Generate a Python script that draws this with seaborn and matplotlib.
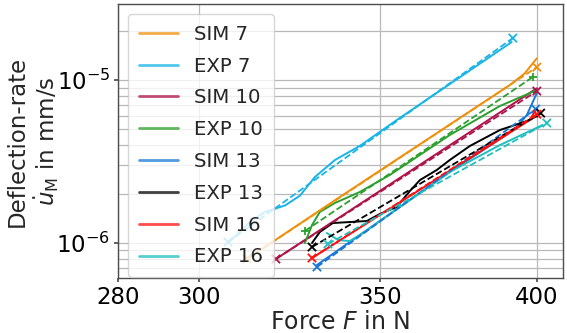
import matplotlib
matplotlib.use("Agg")
import matplotlib.pyplot as plt
from matplotlib.lines import Line2D
from matplotlib.ticker import FixedLocator, FixedFormatter, NullLocator, NullFormatter
import pandas as pd
import seaborn as sns

# Series names and colours
labels = ["SIM 7", "EXP 7", "SIM 10", "EXP 10", "SIM 13", "EXP 13", "SIM 16", "EXP 16"]
colors = ["#f0900a", "#18b4e8", "#b0124a", "#2ca02c", "#1a78d8", "#000000", "#ff1010", "#1fbfbf"]
start_markers = ["x", "x", "x", "+", "x", "x", "x", "x"]

# Measured / simulated deflection-rate curves (force in N, rate in mm/s)
sim7_F = [312.5, 338.2, 390.9, 395.9, 400.0]
sim7_u = [0.798e-6, 1.915e-6, 9.32e-6, 11.0e-6, 13.6e-6]
exp7_F = [307.5, 313.3, 317.3, 322.8, 326.9, 331.1, 336.8, 344.0, 355.0, 391.5]
exp7_u = [1.0e-6, 1.345e-6, 1.55e-6, 1.70e-6, 1.95e-6, 2.54e-6, 3.23e-6, 3.94e-6, 5.68e-6, 17.1e-6]
sim10_F = [320.3, 400.0]
sim10_u = [0.798e-6, 8.9e-6]
exp10_F = [328.3, 330.3, 332.5, 336.8, 344.0, 352.9, 371.4, 387.6, 400.0]
exp10_u = [1.0e-6, 1.289e-6, 1.55e-6, 1.76e-6, 2.056e-6, 2.614e-6, 4.598e-6, 6.93e-6, 8.68e-6]
sim13_F = [331.7, 371.4, 389.2, 393.2, 396.6, 398.6, 400.0]
sim13_u = [0.733e-6, 2.727e-6, 4.533e-6, 5.148e-6, 6.099e-6, 7.328e-6, 8.321e-6]
exp13_F = [330.3, 332.5, 336.2, 341.1, 346.1, 349.9, 355.0, 359.0, 362.1, 367.3, 371.4, 377.8, 387.6, 397.6, 400.5]
exp13_u = [1.0e-6, 1.168e-6, 1.326e-6, 1.345e-6, 1.365e-6, 1.506e-6, 1.663e-6, 2.084e-6, 2.435e-6,
           2.804e-6, 3.23e-6, 3.937e-6, 4.934e-6, 5.684e-6, 6.099e-6]
sim16_F = [330.3, 397.6, 400.0]
sim16_u = [0.809e-6, 5.68e-6, 6.73e-6]
exp16_F = [334.5, 337.7, 341.1, 345.5, 349.1, 371.4, 387.6, 402.0]
exp16_u = [1.152e-6, 1.043e-6, 1.028e-6, 1.168e-6, 1.326e-6, 2.727e-6, 3.99e-6, 5.30e-6]

# Power-law trend lines (first and last point of each test)
sim7_fit_F, sim7_fit_u = [312.5, 400.0], [0.798e-6, 12.0e-6]
exp7_fit_F, exp7_fit_u = [307.5, 391.9], [1.014e-6, 18.1e-6]
sim10_fit_F, sim10_fit_u = [320.3, 400.0], [0.798e-6, 8.56e-6]
exp10_fit_F, exp10_fit_u = [328.3, 398.6], [1.185e-6, 10.43e-6]
sim13_fit_F, sim13_fit_u = [331.7, 399.6], [0.7125e-6, 6.64e-6]
exp13_fit_F, exp13_fit_u = [330.3, 401.3], [0.945e-6, 6.27e-6]
sim16_fit_F, sim16_fit_u = [330.3, 400.0], [0.809e-6, 6.17e-6]
exp16_fit_F, exp16_fit_u = [334.8, 403.4], [0.986e-6, 5.45e-6]

x_ticks = [280, 300, 350, 400]
x_tick_labels = ["280", "300", "350", "400"]

curves = [(sim7_F, sim7_u), (exp7_F, exp7_u), (sim10_F, sim10_u), (exp10_F, exp10_u),
          (sim13_F, sim13_u), (exp13_F, exp13_u), (sim16_F, sim16_u), (exp16_F, exp16_u)]
fits = [(sim7_fit_F, sim7_fit_u), (exp7_fit_F, exp7_fit_u), (sim10_fit_F, sim10_fit_u),
        (exp10_fit_F, exp10_fit_u), (sim13_fit_F, sim13_fit_u), (exp13_fit_F, exp13_fit_u),
        (sim16_fit_F, sim16_fit_u), (exp16_fit_F, exp16_fit_u)]

curve_df = pd.concat([pd.DataFrame({"F": F, "u": u, "label": lab})
                      for lab, (F, u) in zip(labels, curves)], ignore_index=True)
fit_df = pd.concat([pd.DataFrame({"F": F, "u": u, "label": lab})
                    for lab, (F, u) in zip(labels, fits)], ignore_index=True)
palette = dict(zip(labels, colors))

sns.set_theme(style="whitegrid", rc={
    "axes.edgecolor": "0.3",
    "axes.linewidth": 1.0,
    "grid.color": "#b8b8b8",
    "grid.linewidth": 0.9,
    "xtick.bottom": True,
    "ytick.left": True,
    "xtick.major.size": 3.0,
    "ytick.major.size": 3.0,
    "ytick.minor.size": 0,
    "xtick.color": "0.3",
    "ytick.color": "0.3",
    "xtick.labelcolor": "black",
    "ytick.labelcolor": "black",
    "xtick.major.pad": 2.5,
    "ytick.major.pad": 2.5,
})
plt.rcParams["font.family"] = ["DejaVu Sans"]

fig, ax = plt.subplots(figsize=(5.67, 3.33), dpi=100)
fig.subplots_adjust(left=0.2081, right=0.9929, bottom=0.1652, top=0.988)
ax.set_xscale("log")
ax.set_yscale("log")

sns.lineplot(data=curve_df, x="F", y="u", hue="label", palette=palette, estimator=None,
             sort=False, linewidth=1.4, legend=False, ax=ax)
sns.lineplot(data=fit_df, x="F", y="u", hue="label", palette=palette, estimator=None,
             sort=False, linewidth=1.3, linestyle="--", legend=False, ax=ax)
sns.scatterplot(data=fit_df, x="F", y="u", hue="label", palette=palette, style="label",
                markers=dict(zip(labels, start_markers)), s=36, linewidth=1.3,
                legend=False, ax=ax, zorder=3)

ax.set_xlim(280, 409)
ax.set_ylim(6.1e-7, 2.93e-5)
ax.xaxis.set_major_locator(FixedLocator(x_ticks))
ax.xaxis.set_major_formatter(FixedFormatter(x_tick_labels))
ax.xaxis.set_minor_locator(NullLocator())
ax.yaxis.set_minor_formatter(NullFormatter())
ax.grid(True, which="both")
ax.tick_params(axis="both", which="major", labelsize=16.5)

ax.set_xlabel("Force $F$ in N", fontsize=17, labelpad=1)
ax.set_ylabel("Deflection-rate\n$\\dot{u}_\\mathrm{M}$ in mm/s", fontsize=16.5,
              linespacing=1.15)
ax.yaxis.set_label_coords(-0.128, 0.5)

handles = [Line2D([], [], color=c, lw=2.0, alpha=0.75) for c in colors]
ax.legend(handles, labels, loc="upper left", fontsize=14.2, framealpha=0.8,
          labelspacing=0.65, borderpad=0.55, handlelength=2.0, borderaxespad=0.5)

fig.savefig("out.png", dpi=100)
